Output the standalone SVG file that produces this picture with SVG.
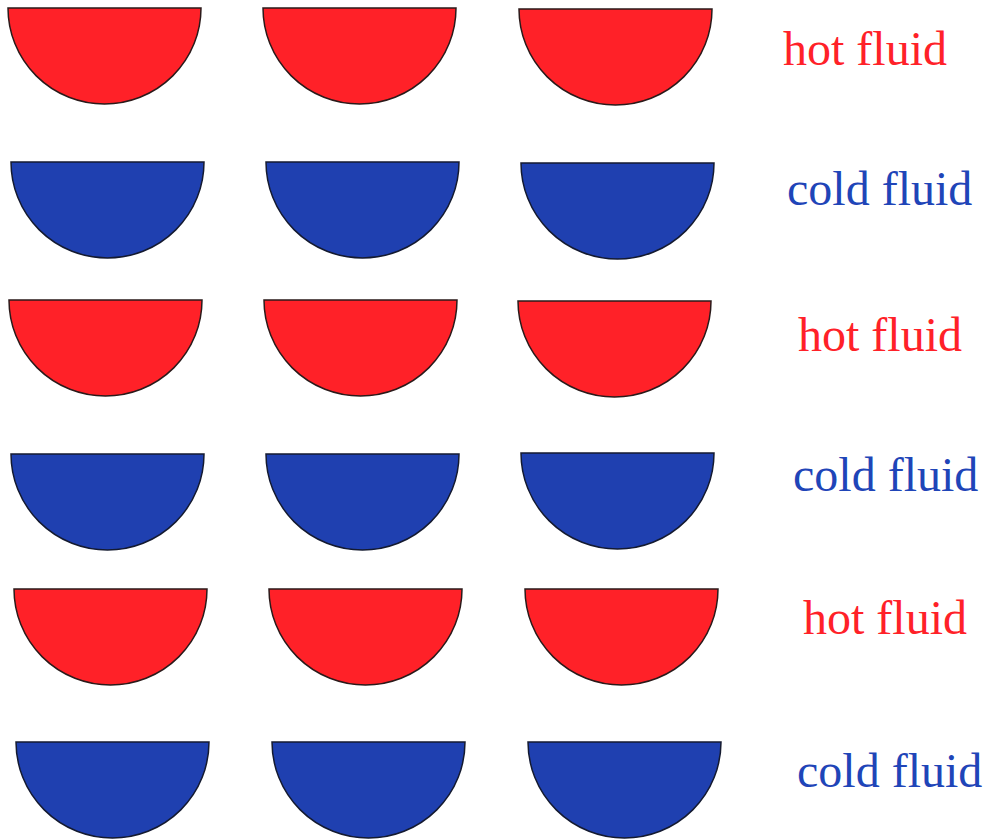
<svg xmlns="http://www.w3.org/2000/svg" xmlns:xlink="http://www.w3.org/1999/xlink" width="990" height="839" viewBox="0 0 990 839">
<style>
.hot{fill:#ff2128;stroke:#2a1a1a;stroke-width:1.5}
.cold{fill:#1f40b0;stroke:#141a30;stroke-width:1.5}
.lbl{font-family:"Liberation Serif","Times New Roman",serif;font-size:48px}
.lh{fill:#ff2128}
.lc{fill:#1f45b8}
</style>
<defs>
<path id="half" d="M0,0 H193 A96.5,96 0 0 1 0,0 Z"/>
</defs>
<rect width="990" height="839" fill="#fff"/>
<g id="row1">
<use class="hot" xlink:href="#half" href="#half" transform="translate(8,8)"/>
<use class="hot" xlink:href="#half" href="#half" transform="translate(263,8)"/>
<use class="hot" xlink:href="#half" href="#half" transform="translate(519,9)"/>
<text class="lbl lh" x="783" y="65">hot fluid</text>
</g>
<g id="row2">
<use class="cold" xlink:href="#half" href="#half" transform="translate(11,162)"/>
<use class="cold" xlink:href="#half" href="#half" transform="translate(266,162)"/>
<use class="cold" xlink:href="#half" href="#half" transform="translate(521,163)"/>
<text class="lbl lc" x="787" y="205">cold fluid</text>
</g>
<g id="row3">
<use class="hot" xlink:href="#half" href="#half" transform="translate(9,300)"/>
<use class="hot" xlink:href="#half" href="#half" transform="translate(264,300)"/>
<use class="hot" xlink:href="#half" href="#half" transform="translate(518,301)"/>
<text class="lbl lh" x="798" y="351">hot fluid</text>
</g>
<g id="row4">
<use class="cold" xlink:href="#half" href="#half" transform="translate(11,454)"/>
<use class="cold" xlink:href="#half" href="#half" transform="translate(266,454)"/>
<use class="cold" xlink:href="#half" href="#half" transform="translate(521,453)"/>
<text class="lbl lc" x="793" y="491">cold fluid</text>
</g>
<g id="row5">
<use class="hot" xlink:href="#half" href="#half" transform="translate(14,589)"/>
<use class="hot" xlink:href="#half" href="#half" transform="translate(269,589)"/>
<use class="hot" xlink:href="#half" href="#half" transform="translate(525,589)"/>
<text class="lbl lh" x="803" y="634">hot fluid</text>
</g>
<g id="row6">
<use class="cold" xlink:href="#half" href="#half" transform="translate(16,742)"/>
<use class="cold" xlink:href="#half" href="#half" transform="translate(272,742)"/>
<use class="cold" xlink:href="#half" href="#half" transform="translate(528,742)"/>
<text class="lbl lc" x="797" y="787">cold fluid</text>
</g>
<g id="connectors"/>
</svg>
